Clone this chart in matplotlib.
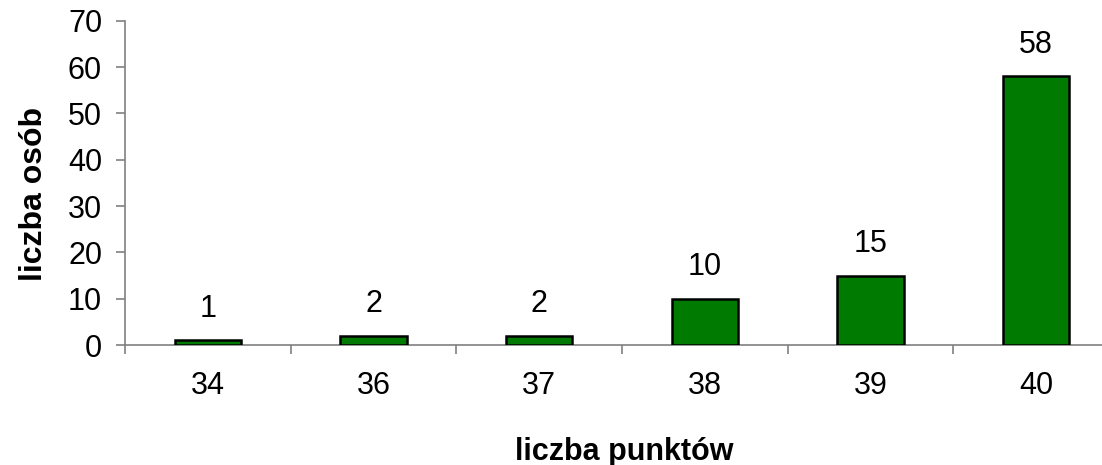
import matplotlib
matplotlib.use("Agg")
import matplotlib.pyplot as plt
import numpy as np

categories = ["34", "36", "37", "38", "39", "40"]
values = [1, 2, 2, 10, 15, 58]
yticks = [0, 10, 20, 30, 40, 50, 60, 70]

plt.rcParams['font.family'] = ['Liberation Sans', 'DejaVu Sans']

fig = plt.figure(figsize=(11.02, 4.65), dpi=100)
W, H = 1102, 465
left, right, top, bottom = 125, 1119, 20.7, 345
ax = fig.add_axes([left / W, 1 - bottom / H, (right - left) / W, (bottom - top) / H])

x = np.arange(len(categories))
ax.bar(x, values, width=0.4, color="#007A00", edgecolor="black", linewidth=1.8, zorder=3)
for xi, v in zip(x, values):
    ax.annotate(str(v), (xi, v), xytext=(0, 12), textcoords="offset points",
                ha="center", va="bottom", fontsize=22)

ax.set_xlim(-0.5, len(categories) - 0.5)
ax.set_ylim(0, 70)
ax.set_yticks(yticks)
ax.set_yticklabels([str(t) for t in yticks], fontsize=22)
ax.set_xticks(x)
ax.set_xticklabels(categories, fontsize=22)
ax.tick_params(axis='x', which='major', length=0, pad=18.5)
ax.set_xticks(np.arange(len(categories) + 1) - 0.5, minor=True)
ax.tick_params(axis='x', which='minor', length=6.5, width=1.2, color="#808080", direction='out')
ax.tick_params(axis='y', length=6.5, width=1.2, color="#808080", direction='out', pad=10)

for s in ['top', 'right']:
    ax.spines[s].set_visible(False)
for s in ['left', 'bottom']:
    ax.spines[s].set_color("#808080")
    ax.spines[s].set_linewidth(1.2)

fig.text(624 / W, 1 - 460 / H, "liczba punktów", ha="center", va="baseline",
         fontsize=22, fontweight="bold")
fig.text(42 / W, 1 - 193.5 / H, "liczba osób", ha="center", va="baseline",
         fontsize=23, fontweight="bold", rotation=90, rotation_mode="anchor")

fig.savefig("out.png", dpi=100)
